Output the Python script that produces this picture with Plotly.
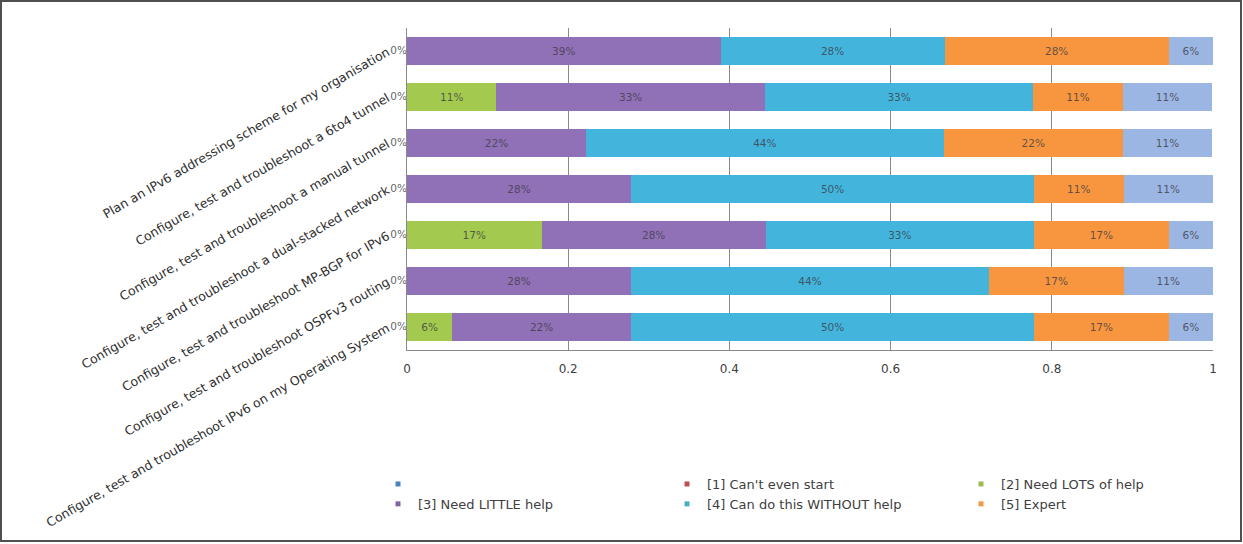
import plotly.graph_objects as go

categories = [
    "Plan an IPv6 addressing scheme for my organisation",
    "Configure, test and troubleshoot a 6to4 tunnel",
    "Configure, test and troubleshoot a manual tunnel",
    "Configure, test and troubleshoot a dual-stacked network",
    "Configure, test and troubleshoot MP-BGP for IPv6",
    "Configure, test and troubleshoot OSPFv3 routing",
    "Configure, test and troubleshoot IPv6 on my Operating System",
]

cant_start = [0, 0, 0, 0, 0, 0, 0]
need_lots = [None, 0.111, None, None, 0.167, None, 0.056]
need_little = [0.389, 0.333, 0.222, 0.278, 0.278, 0.278, 0.222]
without_help = [0.278, 0.333, 0.444, 0.500, 0.333, 0.444, 0.500]
expert = [0.278, 0.111, 0.222, 0.111, 0.167, 0.167, 0.167]
other = [0.055, 0.111, 0.111, 0.111, 0.055, 0.111, 0.055]

legend_names = ["", "[1] Can't even start", "[2] Need LOTS of help",
                "[3] Need LITTLE help", "[4] Can do this WITHOUT help", "[5] Expert"]
x_ticks = [0, 0.2, 0.4, 0.6, 0.8, 1]
x_tick_labels = ["0", "0.2", "0.4", "0.6", "0.8", "1"]

W, H = 1243, 544
L, R, T, B = 407, 30, 28, 194
PW, PH = W - L - R, H - T - B

FONT = "DejaVu Sans"
TXT = "#404040"

fig = go.Figure()

def pct(vals):
    return [("" if v is None else f"{v:.0%}") for v in vals]

series = [
    (need_lots, "#A3C94F"),
    (need_little, "#9070B6"),
    (without_help, "#43B5DD"),
    (expert, "#F7963F"),
    (other, "#9BB6E2"),
]
for vals, col in series:
    fig.add_trace(go.Bar(
        y=categories, x=vals, orientation="h",
        marker=dict(color=col, line=dict(width=0)),
        text=pct(vals), textposition="inside", insidetextanchor="middle",
        textangle=0, constraintext="none", cliponaxis=False,
        textfont=dict(family=FONT, size=10.5, color="rgba(60,60,70,0.8)"),
        showlegend=False, hoverinfo="skip",
    ))

# zero-valued "[1] Can't even start" labels at the axis origin
fig.add_trace(go.Scatter(
    y=categories, x=cant_start, mode="text", text=pct(cant_start),
    textposition="middle left", cliponaxis=False,
    textfont=dict(family=FONT, size=10.5, color="rgba(80,80,80,0.9)"),
    showlegend=False, hoverinfo="skip",
))

# legend entries (three columns of two)
legend_colors = ["#4F81BD", "#C0504D", "#9BBB59", "#8064A2", "#4BACC6", "#F79646"]
legend_ids = ["legend", "legend2", "legend3", "legend", "legend2", "legend3"]
for name, col, lid in zip(legend_names, legend_colors, legend_ids):
    fig.add_trace(go.Scatter(
        x=[None], y=[None], mode="markers", name=name,
        marker=dict(symbol="square", size=5, color=col),
        legend=lid, showlegend=True,
    ))

def px_x(px):
    return (px - L) / PW

def px_y(py):
    return (H - B - py) / PH

leg_common = dict(orientation="v", yanchor="top", xanchor="left",
                  font=dict(family=FONT, size=13, color=TXT),
                  bgcolor="rgba(0,0,0,0)", traceorder="normal",
                  tracegroupgap=0, itemwidth=30)
fig.update_layout(
    legend=dict(x=px_x(378), y=px_y(469), **leg_common),
    legend2=dict(x=px_x(667), y=px_y(469), **leg_common),
    legend3=dict(x=px_x(961), y=px_y(469), **leg_common),
)

fig.update_layout(
    barmode="stack",
    bargap=0.37,
    width=W, height=H,
    margin=dict(l=L, r=R, t=T, b=B, autoexpand=False),
    paper_bgcolor="white",
    plot_bgcolor="white",
    font=dict(family=FONT, size=11, color=TXT),
    xaxis=dict(
        range=[0, 1], tickvals=x_ticks, ticktext=x_tick_labels,
        showgrid=True, gridcolor="#8a8a8a", gridwidth=1,
        showline=True, linecolor="#8a8a8a", linewidth=1,
        zeroline=False, ticks="", ticklabelstandoff=8,
        tickfont=dict(family=FONT, size=12, color=TXT),
        fixedrange=True,
    ),
    yaxis=dict(
        categoryorder="array", categoryarray=categories,
        autorange="reversed",
        showgrid=False, showline=True, linecolor="#8a8a8a", linewidth=1,
        ticks="", tickangle=-30, ticklabelstandoff=16,
        tickfont=dict(family=FONT, size=12.5, color="#303030"),
        fixedrange=True,
    ),
    shapes=[dict(
        type="rect", xref="paper", yref="paper",
        x0=px_x(1), x1=px_x(W - 2), y0=px_y(H - 3), y1=px_y(1),
        line=dict(color="#505050", width=2), fillcolor="rgba(0,0,0,0)",
        layer="above",
    )],
)

fig.write_html("out.html", config=dict(displayModeBar=False))
